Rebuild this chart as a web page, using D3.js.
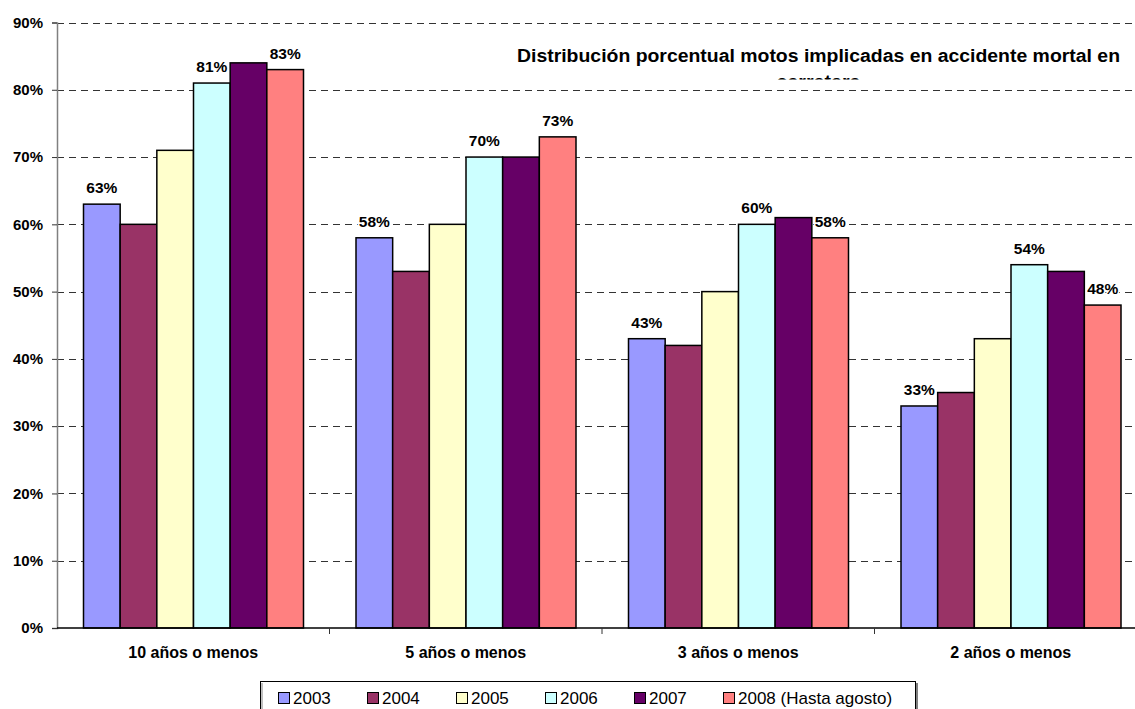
<!DOCTYPE html>
<html><head><meta charset="utf-8">
<script src="https://cdn.jsdelivr.net/npm/d3@7"></script>
<style>
html,body{margin:0;padding:0;background:#fff;overflow:hidden;}
svg{display:block;font-family:Arial,"Liberation Sans",sans-serif;}
</style></head>
<body>
<svg id="c" width="1135" height="709"></svg>
<script>
const categories = ["10 años o menos", "5 años o menos", "3 años o menos", "2 años o menos"];
const seriesNames = ["2003", "2004", "2005", "2006", "2007", "2008 (Hasta agosto)"];
const seriesColors = ["#9999FF", "#993366", "#FFFFCC", "#CCFFFF", "#660066", "#FF8080"];
const s2003 = [0.63, 0.58, 0.43, 0.33];
const s2004 = [0.60, 0.53, 0.42, 0.35];
const s2005 = [0.71, 0.60, 0.50, 0.43];
const s2006 = [0.81, 0.70, 0.60, 0.54];
const s2007 = [0.84, 0.70, 0.61, 0.53];
const s2008 = [0.83, 0.73, 0.58, 0.48];
const labelledSeries = ["2003", "2006", "2008 (Hasta agosto)"];
const yTicks = [0, 0.1, 0.2, 0.3, 0.4, 0.5, 0.6, 0.7, 0.8, 0.9];
const titleLines = ["Distribución porcentual motos implicadas en accidente mortal en", "carretera"];

const seriesValues = [s2003, s2004, s2005, s2006, s2007, s2008];
const data = [];
categories.forEach((c, ci) => seriesNames.forEach((s, si) => data.push({cat: c, series: s, si, value: seriesValues[si][ci]})));

const svg = d3.select("#c");
const fmt = d3.format(".0%");

const y = d3.scaleLinear().domain([0, 0.9]).range([628, 22.5]);
const x0 = d3.scaleBand().domain(categories).range([57, 1147]).paddingInner(0).paddingOuter(0);
const x1 = d3.scaleBand().domain(seriesNames).range([26.5, x0.bandwidth() - 26]).padding(0);
const color = d3.scaleOrdinal().domain(seriesNames).range(seriesColors);

// gridlines
svg.append("g").selectAll("line").data(yTicks.filter(d => d > 0)).join("line")
  .attr("x1", 57).attr("x2", 1147)
  .attr("y1", d => Math.round(y(d)) + 0.5).attr("y2", d => Math.round(y(d)) + 0.5)
  .attr("stroke", "#333").attr("stroke-width", 1).attr("stroke-dasharray", "7,5");

// title
const title = svg.append("g");
title.append("text").attr("x", 818.5).attr("y", 62).attr("text-anchor", "middle")
  .attr("font-size", 18).attr("font-weight", "bold").attr("fill", "#000")
  .attr("textLength", 603).attr("lengthAdjust", "spacingAndGlyphs")
  .text(titleLines[0]);
svg.append("clipPath").attr("id", "tclip").append("rect").attr("x", 0).attr("y", 0).attr("width", 1135).attr("height", 79.5);
title.append("text").attr("x", 818.5).attr("y", 87.5).attr("text-anchor", "middle")
  .attr("clip-path", "url(#tclip)")
  .attr("font-size", 18).attr("font-weight", "bold").attr("fill", "#000")
  .attr("textLength", 84).attr("lengthAdjust", "spacingAndGlyphs")
  .text(titleLines[1]);

// bars
svg.append("g").selectAll("rect").data(data).join("rect")
  .attr("x", d => x0(d.cat) + x1(d.series))
  .attr("y", d => y(d.value))
  .attr("width", x1.bandwidth())
  .attr("height", d => y(0) - y(d.value))
  .attr("fill", d => color(d.series))
  .attr("stroke", "#000").attr("stroke-width", 1.5);

// bar labels
svg.append("g").selectAll("text").data(data.filter(d => labelledSeries.includes(d.series))).join("text")
  .attr("x", d => x0(d.cat) + x1(d.series) + x1.bandwidth() / 2)
  .attr("y", d => y(d.value) - 11)
  .attr("text-anchor", "middle")
  .attr("font-size", 15.5).attr("font-weight", "bold")
  .attr("fill", "#000")
  .attr("stroke", "#fff").attr("stroke-width", 3).attr("paint-order", "stroke")
  .text(d => fmt(d.value));

// y axis
const yAxis = d3.axisLeft(y).tickValues(yTicks).tickFormat(fmt).tickSize(5).tickPadding(9);
const ya = svg.append("g").attr("transform", "translate(57,0)").call(yAxis);
ya.select(".domain").attr("stroke", "#808080").attr("stroke-width", 1.5);
ya.selectAll(".tick line").attr("stroke", "#333");
ya.selectAll(".tick text").attr("font-size", 15).attr("font-weight", "bold").attr("fill", "#000")
  .attr("font-family", "Arial, 'Liberation Sans', sans-serif");

// x axis
const xa = svg.append("g").attr("transform", "translate(0,628)");
xa.append("line").attr("x1", 57).attr("x2", 1147).attr("y1", 0).attr("y2", 0).attr("stroke", "#000").attr("stroke-width", 1.5);
xa.selectAll("line.t").data(categories.slice(1)).join("line").attr("class", "t")
  .attr("x1", d => x0(d)).attr("x2", d => x0(d)).attr("y1", 0).attr("y2", 6)
  .attr("stroke", "#333");
xa.selectAll("text").data(categories).join("text")
  .attr("x", d => x0(d) + x0.bandwidth() / 2).attr("y", 30)
  .attr("text-anchor", "middle").attr("font-size", 16).attr("font-weight", "bold").attr("fill", "#000")
  .text(d => d);

// legend
const lg = svg.append("g");
lg.append("rect").attr("x", 260.5).attr("y", 681.5).attr("width", 655).attr("height", 40)
  .attr("fill", "#fff").attr("stroke", "#000").attr("stroke-width", 1);
lg.append("line").attr("x1", 917).attr("x2", 917).attr("y1", 683).attr("y2", 709).attr("stroke", "#808080").attr("stroke-width", 2);
lg.append("line").attr("x1", 262).attr("x2", 262).attr("y1", 683).attr("y2", 709).attr("stroke", "#808080").attr("stroke-width", 1);
const items = lg.selectAll("g.it").data(seriesNames).join("g").attr("class", "it")
  .attr("transform", (d, i) => `translate(${278 + i * 89},0)`);
items.append("rect").attr("x", 0.5).attr("y", 692.5).attr("width", 11).attr("height", 11)
  .attr("fill", d => color(d)).attr("stroke", "#000").attr("stroke-width", 1);
items.append("text").attr("x", 15).attr("y", 704).attr("font-size", 17).attr("fill", "#000").text(d => d);
</script>
</body></html>
